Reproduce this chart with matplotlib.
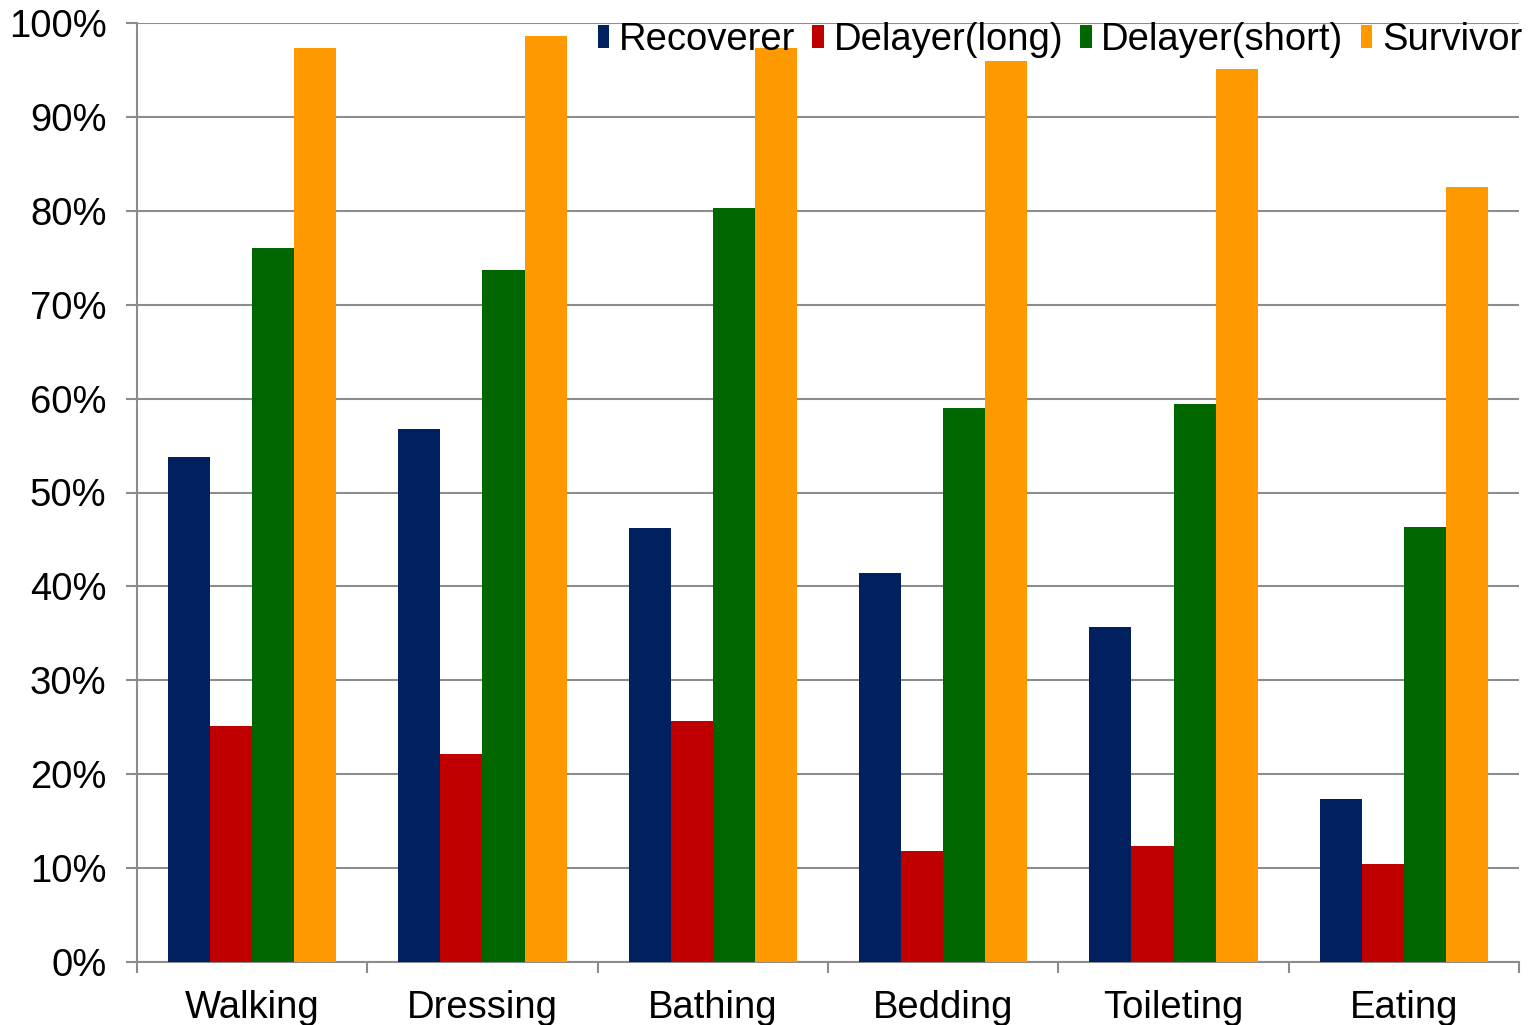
import matplotlib
matplotlib.use('Agg')
import matplotlib.pyplot as plt
import numpy as np

# Share of each group able to perform each activity
activities = ['Walking', 'Dressing', 'Bathing', 'Bedding', 'Toileting', 'Eating']
series_names = ['Recoverer', 'Delayer(long)', 'Delayer(short)', 'Survivor']
recoverer = [53.8, 56.8, 46.2, 41.4, 35.7, 17.4]
delayer_long = [25.1, 22.2, 25.7, 11.8, 12.4, 10.4]
delayer_short = [76.0, 73.7, 80.3, 59.0, 59.4, 46.3]
survivor = [97.3, 98.6, 97.3, 96.0, 95.1, 82.5]
y_ticks = [0, 10, 20, 30, 40, 50, 60, 70, 80, 90, 100]

colores = ['#002060', '#C00000', '#006600', '#FF9900']
grid_color = '#8C8C8C'

plt.rcParams['font.family'] = ['Liberation Sans', 'DejaVu Sans']

fig = plt.figure(figsize=(15.34, 10.25), dpi=100)
ax = fig.add_axes([137 / 1534, 1 - 962 / 1025, (1519 - 137) / 1534, (962 - 23) / 1025])

x = np.arange(len(activities))
ancho = 0.1826
for i, (nombre, valores) in enumerate(zip(series_names,
                                          [recoverer, delayer_long, delayer_short, survivor])):
    ax.bar(x + (i - 1.5) * ancho, valores, width=ancho, color=colores[i],
           label=nombre, zorder=3, linewidth=0)

ax.set_xlim(-0.5, len(activities) - 0.5)
ax.set_ylim(0, 100)

ax.set_yticks(y_ticks)
ax.set_yticklabels([f'{v}%' for v in y_ticks])
ax.yaxis.grid(True, color=grid_color, linewidth=1.5, zorder=0)
ax.set_axisbelow(True)

# category labels centered, tick marks at group boundaries
ax.set_xticks(x)
ax.set_xticklabels(activities)
ax.set_xticks(np.arange(-0.5, len(activities)), minor=True)
ax.tick_params(axis='x', which='major', length=0, pad=20, labelsize=27.5)
ax.tick_params(axis='x', which='minor', length=8, width=1.5, color=grid_color, direction='out')
ax.tick_params(axis='y', length=8, width=1.5, color=grid_color, direction='out', pad=14, labelsize=27.5)

for lado in ['top', 'right']:
    ax.spines[lado].set_visible(False)
for lado in ['left', 'bottom']:
    ax.spines[lado].set_color(grid_color)
    ax.spines[lado].set_linewidth(1.5)

fig.legend(loc='upper right', bbox_to_anchor=(1522 / 1534, 1 - 22 / 1025), ncol=4,
           frameon=False, fontsize=27.5, handlelength=0.3, handleheight=0.55,
           handletextpad=0.25, columnspacing=0.45, borderpad=0, borderaxespad=0)

plt.savefig('out.png', dpi=100)
plt.close()
